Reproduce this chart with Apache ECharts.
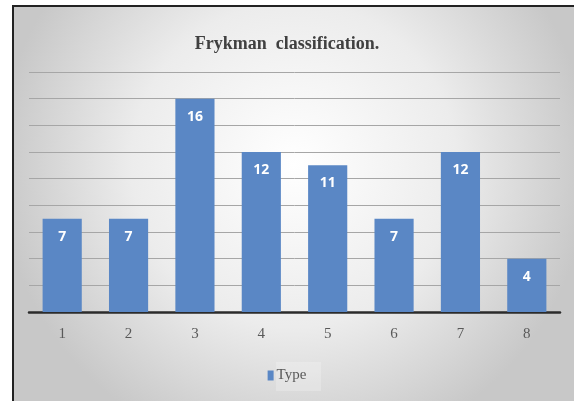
<!DOCTYPE html>
<html>
<head>
<meta charset="utf-8">
<script src="https://cdn.jsdelivr.net/npm/echarts@6/dist/echarts.min.js"></script>
<style>
  html, body { margin: 0; padding: 0; background: #ffffff; }
  #frame { position: absolute; left: 12px; top: 5px; width: 562px; height: 396px;
           border-left: 2px solid #222; border-top: 2px solid #222; box-sizing: border-box; }
  #chart { position: absolute; left: 0; top: 0; width: 574px; height: 401px; }
</style>
</head>
<body>
<div id="frame"></div>
<div id="chart"></div>
<script>
// Frykman classification counts per type
const categories = ['1', '2', '3', '4', '5', '6', '7', '8'];
const typeCounts = [7, 7, 16, 12, 11, 7, 12, 4];
const seriesName = 'Type';
const titleText = 'Frykman  classification.';

const chart = echarts.init(document.getElementById('chart'), null, { renderer: 'canvas' });

chart.setOption({
  animation: false,
  backgroundColor: 'transparent',
  graphic: [{
    type: 'rect',
    z: -10,
    silent: true,
    shape: { x: 14, y: 7, width: 560, height: 394 },
    style: {
      fill: {
        type: 'radial', x: 0.5, y: 0.4, r: 0.75,
        colorStops: [
          { offset: 0, color: '#ffffff' },
          { offset: 0.55, color: '#ececec' },
          { offset: 1, color: '#c8c8c8' }
        ]
      }
    }
  }, {
    type: 'rect',
    z: -5,
    silent: true,
    shape: { x: 276, y: 362, width: 45, height: 29 },
    style: { fill: 'rgba(255,255,255,0.22)' }
  }],
  title: {
    text: titleText,
    left: 'center',
    top: 30,
    textStyle: {
      fontFamily: 'Liberation Serif',
      fontWeight: 'bold',
      fontSize: 18,
      color: '#404040'
    }
  },
  legend: {
    data: [seriesName],
    bottom: 13,
    left: 'center',
    itemWidth: 6,
    itemHeight: 10,
    itemGap: 4,
    icon: 'rect',
    textStyle: {
      fontFamily: 'Liberation Serif',
      fontSize: 15,
      color: '#595959',
      padding: [0, 0, 0, -2]
    }
  },
  grid: { left: 29, right: 14, top: 72, bottom: 89, containLabel: false },
  xAxis: {
    type: 'category',
    data: categories,
    axisLine: { lineStyle: { color: '#2b2b2b', width: 2.5 } },
    axisTick: { show: false },
    axisLabel: {
      margin: 15,
      fontFamily: 'Liberation Serif',
      fontSize: 15,
      color: '#595959'
    }
  },
  yAxis: {
    type: 'value',
    min: 0,
    max: 18,
    interval: 2,
    axisLabel: { show: false },
    axisLine: { show: false },
    axisTick: { show: false },
    splitLine: { lineStyle: { color: '#a6a6a6', width: 1 } }
  },
  series: [{
    name: seriesName,
    type: 'bar',
    data: typeCounts,
    barWidth: '59%',
    itemStyle: { color: '#5a87c5' },
    label: {
      show: true,
      position: 'insideTop',
      distance: 11,
      color: '#ffffff',
      fontWeight: 'bold',
      fontFamily: 'Open Sans',
      fontSize: 14
    }
  }]
});
</script>
</body>
</html>
